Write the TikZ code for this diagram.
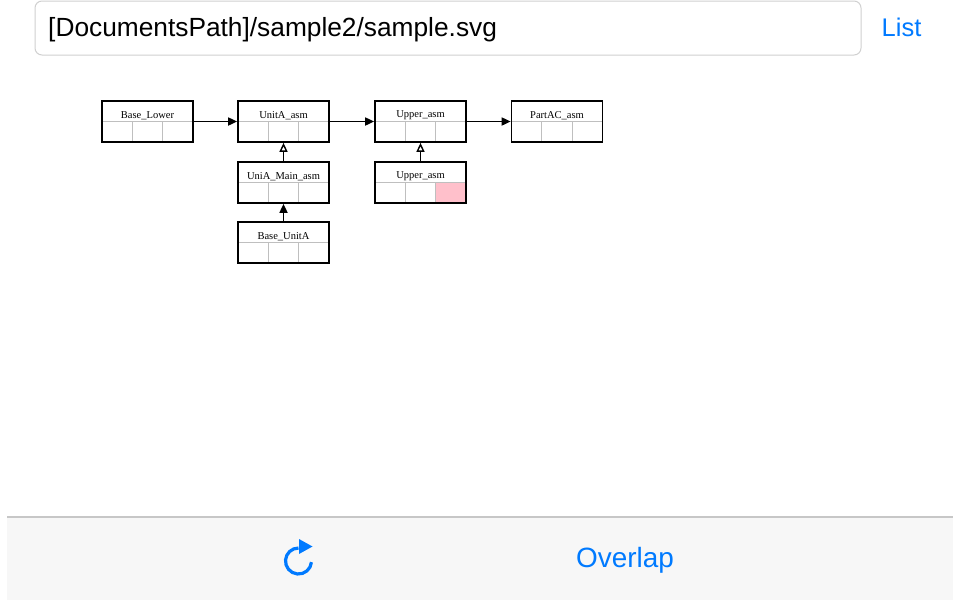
\documentclass[tikz,border=0pt]{standalone}
\usepackage{fontspec}
\setmainfont{Liberation Serif}
\newfontfamily\uifont{Liberation Sans}
\usetikzlibrary{arrows.meta}
\definecolor{iosblue}{RGB}{0,122,255}
\definecolor{fieldgray}{RGB}{208,208,208}
\definecolor{bargray}{RGB}{247,247,247}
\definecolor{cellpink}{RGB}{255,192,203}
\tikzset{
  asmbox/.style={draw, line width=1.7pt, minimum width=91pt, minimum height=41pt, inner sep=0pt},
  asmtitle/.style={font=\fontsize{10.5}{12}\selectfont, inner sep=0pt},
  cell/.style={draw=black!25, line width=0.8pt},
  uses/.style={line width=1.7pt, -{Triangle[length=9pt,width=8pt]}},
  derives/.style={line width=1.4pt, -{Triangle[open,length=9pt,width=8pt]}},
  uitext/.style={text=iosblue, inner sep=0pt, anchor=base west}
}
\newcommand{\asmbox}[4]{%
  \draw[cell] (#2-45.5,#3) -- (#2+45.5,#3);
  \foreach \k in {1,2}
    \draw[cell] (#2-45.5+\k*30.33,#3) -- (#2-45.5+\k*30.33,#3+20.5);
  \node[asmbox] (#1) at (#2,#3) {};
  \node[asmtitle] (#1-t) at (#2,#3-6) {#4};
}

\begin{document}
\begin{tikzpicture}[x=1pt,y=-1pt]
  \useasboundingbox[fill=white] (0,0) rectangle (960,600);
  \draw[fieldgray, line width=1pt, rounded corners=7pt] (35,1) rectangle (861,55);
  \node[inner sep=0pt, anchor=base west] (path) at (48,36)
    {\uifont\fontsize{26.3}{30}\selectfont [DocumentsPath]/sample2/sample.svg};
  \node[uitext] (list) at (881.5,36.5) {\uifont\fontsize{25.5}{30}\selectfont List};

  \fill[cellpink] (435.2,182.5) rectangle (466,203);
  \asmbox{baselower}{147.5}{121.5}{Base\_Lower}
  \asmbox{unita}{283.5}{121.5}{UnitA\_asm}
  \asmbox{upperasm}{420.5}{121.5}{Upper\_asm}
  \asmbox{partac}{557}{121.5}{PartAC\_asm}
  \asmbox{unimain}{283.5}{182.5}{UniA\_Main\_asm}
  \asmbox{upperleaf}{420.5}{182.5}{Upper\_asm}
  \asmbox{baseunita}{283.5}{242.5}{Base\_UnitA}

  \draw[uses] (baselower.east) -- (unita.west);
  \draw[uses] (unita.east) -- (upperasm.west);
  \draw[uses] (upperasm.east) -- (partac.west);
  \draw[uses] (baseunita.north) -- (unimain.south);
  \draw[derives] (unimain.north) -- (unita.south);
  \draw[derives] (upperleaf.north) -- (upperasm.south);

  \fill[bargray] (7,517) rectangle (953,600);
  \draw[black!22, line width=1.2pt] (7,517) -- (953,517);
  \coordinate (reload) at (298.5,561);
  \draw[iosblue, line width=3.2pt] ([shift={(-5:13pt)}]reload)
    arc[start angle=-5, end angle=-270, radius=13pt];
  \fill[iosblue] (299,539) -- (312.5,546.5) -- (299,554) -- cycle;
  \node[uitext] (overlap) at (576,567) {\uifont\fontsize{27.9}{30}\selectfont Overlap};
\end{tikzpicture}
\end{document}
